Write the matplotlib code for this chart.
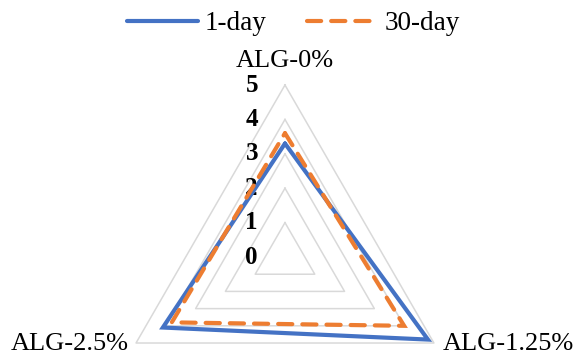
import numpy as np
import matplotlib
matplotlib.use("Agg")
import matplotlib.pyplot as plt

categories = ["ALG-0%", "ALG-1.25%", "ALG-2.5%"]
series_names = ["1-day", "30-day"]
day1 = [3.3, 4.8, 4.1]
day30 = [3.6, 4.0, 3.8]
levels = [0, 1, 2, 3, 4, 5]

plt.rcParams["font.family"] = ["Liberation Serif", "DejaVu Serif"]

fig = plt.figure(figsize=(5.73, 3.56), dpi=100)
ax = fig.add_axes([0.1972, -0.2051, 0.6003, 0.9663], projection="polar")
ax.set_theta_offset(np.pi / 2)
ax.set_theta_direction(-1)
ax.set_ylim(0, max(levels))
ax.grid(False)
ax.spines["polar"].set_visible(False)
ax.set_xticks([])
ax.set_yticks([])
ax.patch.set_alpha(0)

n = len(categories)
theta = np.linspace(0, 2 * np.pi, n, endpoint=False)
theta_closed = np.append(theta, theta[0])

# polygonal gridlines
for lv in levels[1:]:
    ax.plot(theta_closed, [lv] * (n + 1), color="#D9D9D9", lw=1.1,
            zorder=1, clip_on=False)

# value axis labels along the top spoke
for lv in levels:
    ax.annotate(str(lv), xy=(0, lv), xytext=(-27, 0), textcoords="offset pixels",
                ha="right", va="center", fontsize=18, fontweight="bold",
                color="black", annotation_clip=False)

# category labels
ax.annotate(categories[0], xy=(theta[0], 5), xytext=(0, 24), textcoords="offset pixels",
            ha="center", va="center", fontsize=19, annotation_clip=False)
ax.annotate(categories[1], xy=(theta[1], 5), xytext=(9, -1), textcoords="offset pixels",
            ha="left", va="center", fontsize=19, annotation_clip=False)
ax.annotate(categories[2], xy=(theta[2], 5), xytext=(-7, -1), textcoords="offset pixels",
            ha="right", va="center", fontsize=19, annotation_clip=False)

l1, = ax.plot(theta_closed, day1 + day1[:1], color="#4472C4", lw=3,
              solid_joinstyle="miter", solid_capstyle="round", zorder=3,
              clip_on=False, label=series_names[0])
l2, = ax.plot(theta_closed, day30 + day30[:1], color="#ED7D31", lw=3,
              dashes=(3.4, 2.4), dash_capstyle="round", dash_joinstyle="miter",
              zorder=4, clip_on=False, label=series_names[1])

fig.legend(handles=[l1, l2], loc="center", bbox_to_anchor=(0.512, 0.933),
           ncol=2, frameon=False, fontsize=19.5, handlelength=2.6,
           handletextpad=0.25, columnspacing=1.5, borderaxespad=0)

fig.savefig("out.png", dpi=100)
